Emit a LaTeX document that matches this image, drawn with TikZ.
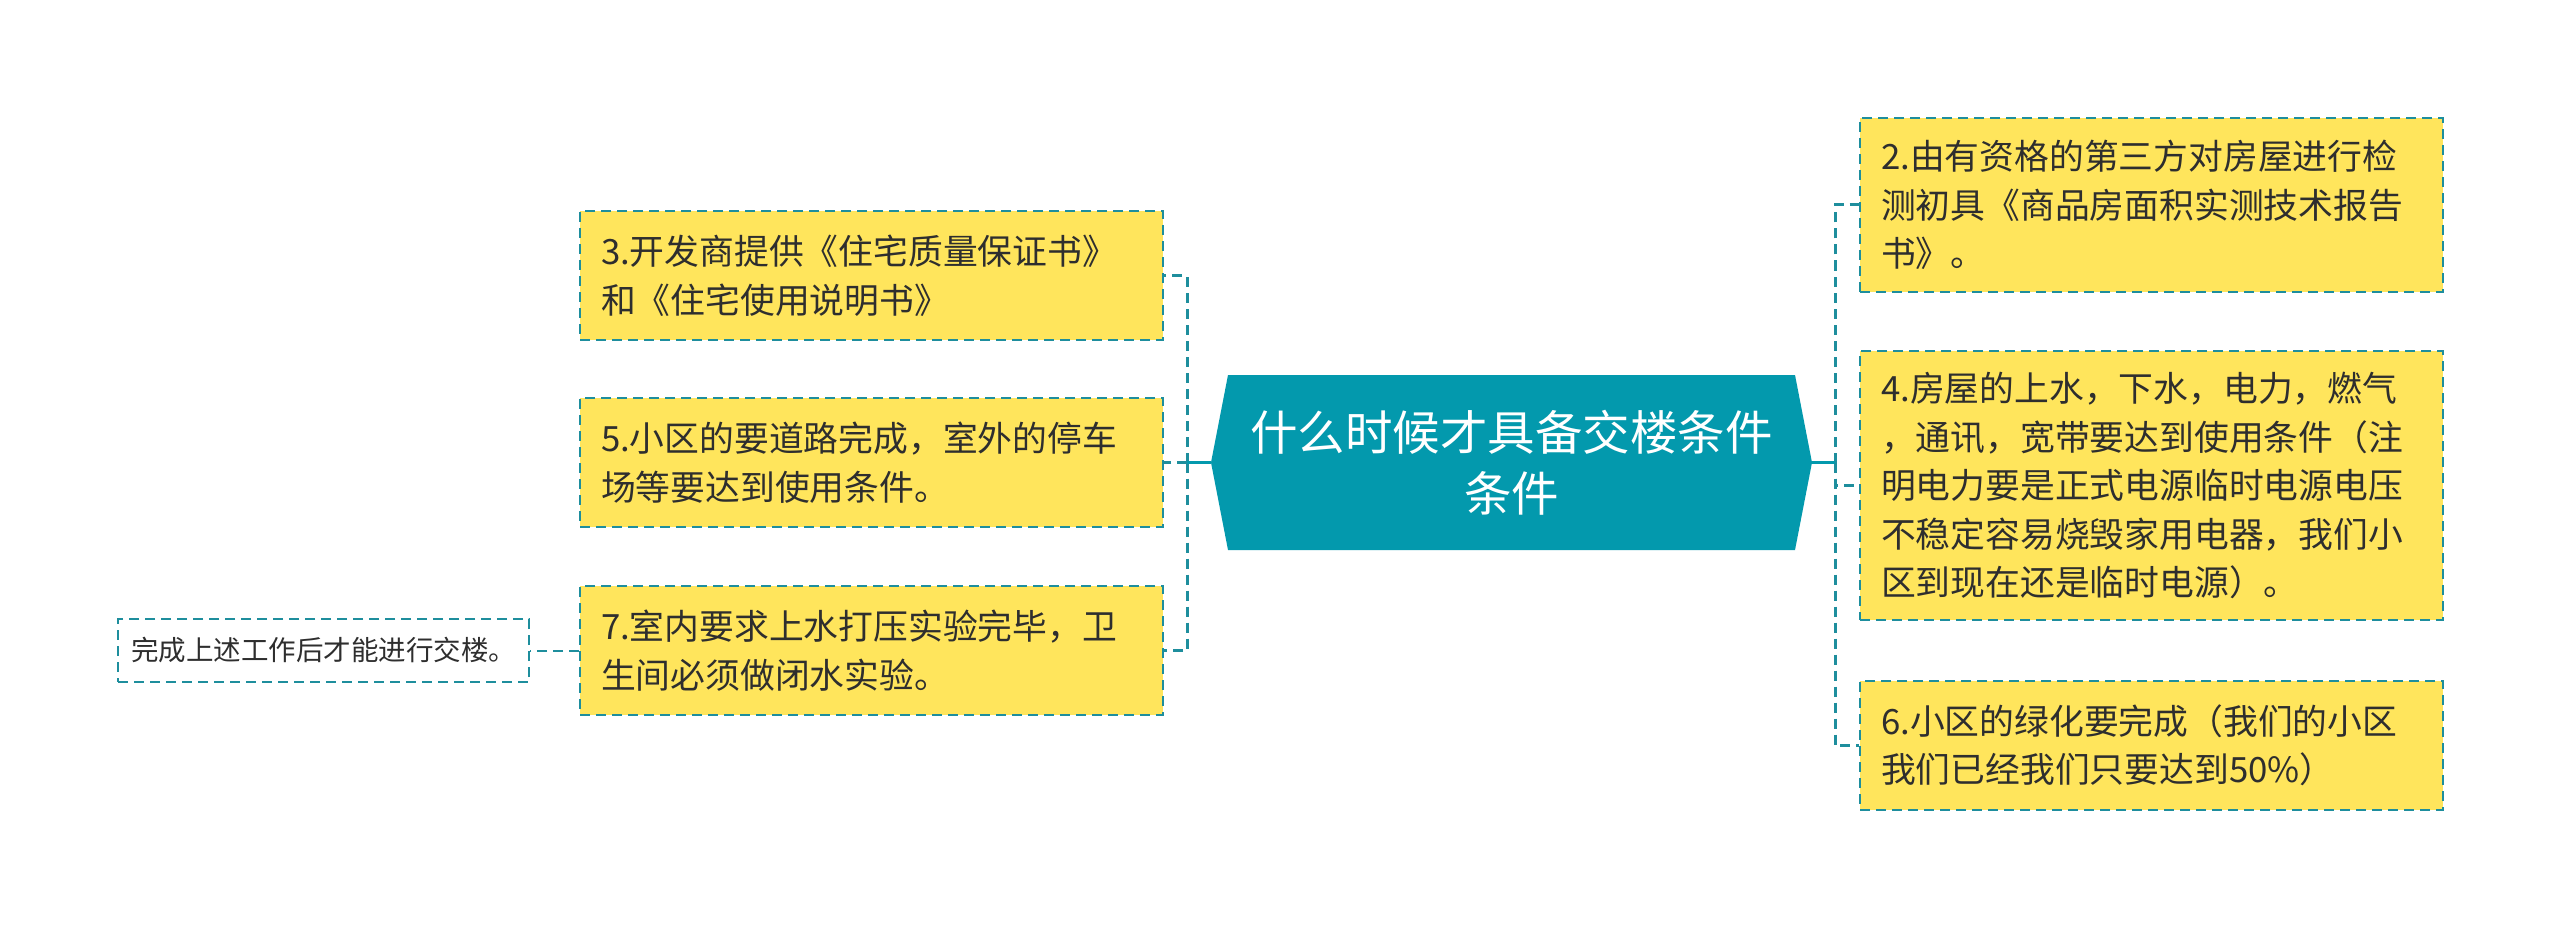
\documentclass[tikz,border=0pt]{standalone}
\usepackage{fontspec}
\newfontfamily\cjk{Noto Sans CJK SC}
\definecolor{teal1}{HTML}{0399AD}
\definecolor{dashc}{HTML}{1E8E9D}
\definecolor{boxy}{HTML}{FFE55C}
\definecolor{txt}{HTML}{2E2E2E}
\tikzset{
  leaf/.style={draw=dashc, line width=2pt, dash pattern=on 10pt off 6pt, fill=boxy,
    rectangle, inner xsep=21pt, inner ysep=0pt, text width=541pt, align=left,
    minimum width=583pt, font=\cjk\fontsize{34.8}{48.5}\selectfont, text=txt, anchor=center},
  note/.style={draw=dashc, line width=2pt, dash pattern=on 10pt off 6pt, fill=white,
    rectangle, inner xsep=8pt, inner ysep=0pt, minimum width=411pt, minimum height=63pt,
    font=\cjk\fontsize{27.5}{30}\selectfont, text=txt, anchor=center},
  link/.style={draw=dashc, line width=3pt, dash pattern=on 10pt off 6pt},
  stub/.style={draw=teal1, line width=3pt}
}
\begin{document}
\begin{tikzpicture}[x=1pt,y=-1pt]
\useasboundingbox (0,0) rectangle (2560,928);
% central hexagon
\fill[teal1] (1211,462.5) -- (1228,375) -- (1795,375) -- (1812,462.5) -- (1795,550) -- (1228,550) -- cycle;
\node[rectangle, minimum width=601pt, minimum height=175pt, inner sep=0pt, align=center,
  text=white, font=\cjk\fontsize{47.5}{61}\selectfont] (c) at (1511.5,462.5)
  {什么时候才具备交楼条件\\条件};
% left leaves
\node[leaf, minimum height=129pt] (n3) at (871.5,275.5) {3.开发商提供《住宅质量保证书》\\和《住宅使用说明书》};
\node[leaf, minimum height=129pt] (n5) at (871.5,462.5) {5.小区的要道路完成，室外的停车\\场等要达到使用条件。};
\node[leaf, minimum height=129pt] (n7) at (871.5,650.5) {7.室内要求上水打压实验完毕，卫\\生间必须做闭水实验。};
\node[note] (s) at (323.5,650.5) {完成上述工作后才能进行交楼。};
% right leaves
\node[leaf, minimum height=174pt] (n2) at (2151.5,205) {2.由有资格的第三方对房屋进行检\\测初具《商品房面积实测技术报告\\书》。};
\node[leaf, minimum height=269pt] (n4) at (2151.5,485.5) {4.房屋的上水，下水，电力，燃气\\，通讯，宽带要达到使用条件（注\\明电力要是正式电源临时电源电压\\不稳定容易烧毁家用电器，我们小\\区到现在还是临时电源）。};
\node[leaf, minimum height=129pt] (n6) at (2151.5,745.5) {6.小区的绿化要完成（我们的小区\\我们已经我们只要达到50\%）};
% connectors
\coordinate (lt) at (1187,462.5);
\coordinate (rt) at (1835,462.5);
\draw[link] (lt) |- (n3.east);
\draw[link] (lt) |- (n7.east);
\draw[link] (lt) -- (n5.east);
\draw[link] (rt) |- (n2.west);
\draw[link] (rt) |- (n6.west);
\draw[link] (rt) |- (n4.west);
\draw[stub] (c.west) -- (lt);
\draw[stub] (c.east) -- (rt);
\draw[link, line width=2pt] (n7.west) -- (s.east);
\end{tikzpicture}
\end{document}
